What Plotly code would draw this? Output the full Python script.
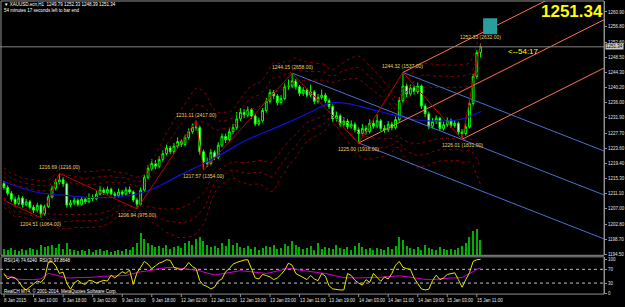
import plotly.graph_objects as go
import pandas as pd

W, H = 625, 307

# ---------------- data ----------------
closes = [1212.8, 1211.2, 1209.6, 1208.4, 1209.9, 1208.1, 1208.9, 1207.4, 1206.6, 1207.9,
          1205.6, 1207.6, 1210.2, 1212.6, 1214.3, 1214.9, 1213.8, 1208.0, 1208.6, 1209.3,
          1208.2, 1209.6, 1208.9, 1210.1, 1209.7, 1211.0, 1212.1, 1211.4, 1212.3, 1211.1,
          1210.6, 1211.6, 1211.0, 1212.2, 1211.6, 1209.4, 1208.2, 1212.1, 1215.6, 1218.0,
          1219.4, 1218.6, 1220.5, 1222.1, 1223.6, 1222.6, 1224.1, 1225.4, 1224.6, 1226.5,
          1228.1, 1229.4, 1229.2, 1222.6, 1219.8, 1219.4, 1222.4, 1221.1, 1224.4, 1226.8,
          1225.9, 1228.1, 1229.2, 1231.6, 1233.4, 1232.6, 1234.1, 1232.4, 1230.2, 1231.1,
          1233.9, 1236.4, 1238.8, 1237.9, 1236.1, 1237.2, 1240.4, 1240.6, 1242.0, 1240.4,
          1238.6, 1239.5, 1238.1, 1239.0, 1236.4, 1237.5, 1238.1, 1236.6, 1235.0, 1231.6,
          1232.5, 1230.1, 1231.0, 1229.5, 1230.1, 1228.6, 1227.6, 1229.0, 1228.1, 1230.4,
          1229.6, 1231.1, 1229.0, 1228.6, 1230.1, 1229.2, 1231.4, 1236.6, 1240.6, 1238.4,
          1240.1, 1239.0, 1240.6, 1235.1, 1233.0, 1229.6, 1230.9, 1231.8, 1229.0, 1230.0,
          1231.2, 1229.8, 1230.4, 1228.0, 1227.6, 1229.4, 1235.8, 1243.2, 1249.79, 1251.34]
highs = [1214.6, 1213.4, 1211.8, 1210.3, 1210.8, 1210.4, 1209.7, 1209.4, 1208.0, 1208.6,
         1208.3, 1208.1, 1210.9, 1213.3, 1215.2, 1216.69, 1215.6, 1214.2, 1209.4, 1210.1,
         1209.8, 1210.3, 1210.2, 1211.2, 1210.9, 1211.9, 1213.2, 1212.8, 1213.1, 1212.8,
         1211.7, 1212.5, 1212.2, 1213.0, 1213.1, 1212.0, 1210.0, 1212.8, 1216.3, 1218.9,
         1220.6, 1220.3, 1221.4, 1223.0, 1224.6, 1224.2, 1225.0, 1226.5, 1226.0, 1227.3,
         1229.0, 1230.3, 1231.11, 1229.8, 1223.2, 1221.0, 1223.3, 1223.0, 1225.2, 1227.6,
         1227.6, 1229.0, 1230.2, 1233.5, 1234.6, 1234.3, 1235.0, 1234.6, 1232.9, 1232.0,
         1234.6, 1237.4, 1239.7, 1239.5, 1238.4, 1238.1, 1241.3, 1242.4, 1244.15, 1242.6,
         1240.9, 1240.3, 1240.0, 1241.0, 1239.5, 1238.4, 1239.6, 1238.7, 1237.2, 1235.6,
         1233.6, 1233.0, 1232.1, 1231.6, 1231.2, 1230.7, 1229.3, 1230.2, 1229.8, 1231.5,
         1231.2, 1232.8, 1231.6, 1229.9, 1231.0, 1230.8, 1232.3, 1237.6, 1244.32, 1241.2,
         1241.0, 1240.8, 1241.6, 1241.0, 1235.8, 1233.6, 1231.8, 1232.6, 1232.2, 1230.9,
         1232.0, 1231.7, 1231.3, 1230.9, 1228.8, 1230.3, 1236.5, 1244.0, 1250.5, 1252.33]
lows = [1212.2, 1210.6, 1208.9, 1207.6, 1207.9, 1207.3, 1207.6, 1206.8, 1205.8, 1206.0,
        1204.51, 1205.1, 1207.2, 1209.8, 1212.0, 1213.6, 1213.0, 1207.3, 1207.4, 1208.0,
        1207.6, 1207.8, 1208.3, 1208.5, 1209.0, 1209.3, 1210.6, 1210.8, 1210.9, 1210.6,
        1209.9, 1210.1, 1210.4, 1210.6, 1211.0, 1208.8, 1206.94, 1207.9, 1211.6, 1215.0,
        1217.4, 1217.8, 1218.1, 1219.9, 1221.6, 1221.9, 1222.0, 1223.6, 1223.9, 1224.1,
        1225.9, 1227.5, 1228.4, 1221.8, 1217.57, 1218.4, 1218.9, 1220.3, 1220.6, 1223.8,
        1225.0, 1225.3, 1227.4, 1228.6, 1231.0, 1231.8, 1232.0, 1231.6, 1229.6, 1229.7,
        1230.6, 1233.3, 1235.8, 1237.0, 1235.3, 1235.5, 1236.7, 1239.6, 1240.0, 1239.6,
        1237.8, 1237.9, 1237.4, 1237.6, 1235.6, 1235.8, 1236.9, 1235.9, 1234.3, 1230.8,
        1230.9, 1229.4, 1229.5, 1228.8, 1228.9, 1227.9, 1225.00, 1227.0, 1227.3, 1227.6,
        1228.9, 1229.0, 1228.3, 1227.8, 1228.0, 1228.5, 1228.7, 1230.8, 1236.0, 1237.5,
        1237.8, 1238.2, 1238.5, 1234.3, 1232.1, 1228.8, 1229.0, 1230.2, 1228.3, 1228.4,
        1229.4, 1229.1, 1229.2, 1227.3, 1226.01, 1227.0, 1229.0, 1235.2, 1242.6, 1248.39]
first_open = 1213.9
opens = [first_open] + closes[:-1]

volumes = [600, 500, 700, 500, 400, 600, 500, 700, 600, 500,
           1000, 800, 900, 1000, 700, 1100, 600, 1200, 600, 500,
           400, 500, 400, 600, 300, 500, 600, 400, 500, 300,
           400, 500, 400, 600, 500, 800, 1200, 2200, 1600, 1200,
           1000, 800, 900, 700, 1000, 600, 800, 900, 700, 1200,
           1400, 1000, 1600, 1800, 1400, 1000, 800, 900, 700, 1200,
           900, 1600, 1000, 1200, 800, 700, 900, 600, 800, 500,
           700, 900, 800, 1000, 600, 700, 1100, 900, 1400, 1000,
           800, 600, 700, 900, 500, 1200, 600, 800, 700, 600,
           1000, 700, 600, 800, 500, 900, 1200, 800, 600, 700,
           500, 700, 600, 500, 800, 600, 900, 1800, 1500, 900,
           700, 600, 800, 500, 1000, 700, 600, 500, 800, 600,
           500, 600, 500, 700, 900, 1200, 1800, 2400, 2700, 1500]

rsi_fast = [58, 42, 48, 45, 35, 18, 10, 18, 28, 36,
            32, 45, 90, 93, 80, 58, 62, 30, 12, 30,
            38, 30, 26, 38, 36, 30, 34, 38, 36, 53,
            45, 55, 63, 58, 68, 26, 60, 76, 93, 85,
            72, 80, 88, 92, 98, 96, 76, 72, 68, 75,
            90, 78, 72, 37, 24, 20, 13, 18, 36, 42,
            63, 72, 85, 90, 94, 97, 98, 72, 45, 42,
            55, 52, 48, 40, 45, 55, 68, 88, 82, 58,
            52, 48, 40, 52, 42, 37, 58, 50, 22, 13,
            11, 10, 10, 58, 52, 38, 30, 24, 40, 32,
            58, 45, 35, 48, 42, 58, 82, 93, 76, 72,
            70, 45, 30, 13, 10, 12, 37, 53, 40, 45,
            55, 58, 60, 40, 18, 40, 60, 93, 98, 99]
rsi_slow = [53, 49, 45, 43, 41, 40, 40, 40, 40, 40,
            42, 50, 58, 56, 53, 50, 47, 45, 45, 45,
            45, 45, 45, 46, 47, 48, 50, 50, 50, 50,
            50, 51, 51, 52, 55, 58, 61, 63, 64, 65,
            66, 69, 72, 74, 76, 76, 75, 74, 73, 72,
            70, 68, 67, 66, 62, 60, 57, 54, 55, 57,
            59, 62, 63, 65, 66, 65, 64, 63, 61, 60,
            59, 58, 60, 62, 65, 68, 71, 72, 72, 70,
            67, 66, 65, 63, 62, 61, 59, 58, 55, 52,
            50, 48, 46, 45, 45, 45, 45, 45, 45, 45,
            45, 46, 47, 48, 49, 50, 50, 51, 50, 49,
            48, 46, 44, 42, 40, 40, 40, 41, 43, 45,
            45, 45, 45, 45, 46, 52, 57, 63, 70, 74.6]

zz_bars = [0, 10, 15, 36, 52, 54, 78, 96, 108, 124, 129]
zz_prices = [1209.3, 1204.51, 1216.69, 1206.94, 1231.11, 1217.57, 1244.15, 1225.00, 1244.32, 1226.01, 1252.33]
zz_vols = [None, 1064.00, 1216.00, 975.00, 2417.00, 1354.00, 2658.00, 1916.00, 1537.00, 1831.00, 2632.00]
zz_kind = [None, 'low', 'high', 'low', 'high', 'low', 'high', 'low', 'high', 'low', 'high']

ma_bars = [0, 8.2, 17.3, 26.2, 35.1, 41.0, 47.7, 56.6, 65.7, 74.6, 83.5, 88.0, 92.6, 101.5, 110.3, 117.6, 123.8, 129.2]
ma_vals = [1214.37, 1211.65, 1210.56, 1210.01, 1210.83, 1212.74, 1216.27, 1220.63, 1225.80, 1229.61,
           1233.69, 1235.87, 1235.87, 1233.69, 1231.51, 1230.97, 1231.51, 1233.69]

price_ticks = [1260.90, 1256.80, 1252.60, 1248.50, 1244.30, 1240.20, 1236.00, 1231.90, 1227.70,
               1223.60, 1219.40, 1215.30, 1211.10, 1207.00, 1202.80, 1198.70, 1194.50]
time_tick_bars = [0, 8, 16, 24, 32, 40, 48, 56, 64, 72, 80, 88, 96, 104, 112, 120, 128]
time_tick_labels = ["8 Jan 2015", "8 Jan 10:00", "8 Jan 18:00", "9 Jan 02:00", "9 Jan 10:00",
                    "9 Jan 18:00", "12 Jan 02:00", "12 Jan 11:00", "12 Jan 19:00", "13 Jan 03:00",
                    "13 Jan 11:00", "13 Jan 19:00", "14 Jan 03:00", "14 Jan 11:00", "14 Jan 19:00",
                    "15 Jan 03:00", "15 Jan 11:00"]
rsi_levels = [30, 70]
rsi_ticks = [0, 30, 70, 100]

bid = 1251.34
header = "\u25bc XAUUSD.ecn,H1  1249.79 1252.33 1248.39 1251.34"
timer_text = "54 minutes 17 seconds left to bar end"
rsi_label = "RSI(14) 74.6240  RSI(3) 97.8648"
footer = "RealCH MT4, \u00a9 2001-2014, MetaQuotes Software Corp."
box_bars = [129.7, 133.5]
box_prices = [1254.8, 1259.2]

# ---------------- layout geometry ----------------
bars = list(range(len(closes)))
X0_PX, BAR_PX = 4.0, 3.7
PLOT_RIGHT_PX = 605
x_range = [(0 - X0_PX) / BAR_PX, (PLOT_RIGHT_PX - X0_PX) / BAR_PX]
PX_PER_PRICE = 3.675
main_top_py, main_bot_py = 1, 257
y_range = [1260.9 - (main_bot_py - 12) / PX_PER_PRICE, 1260.9 + (12 - main_top_py) / PX_PER_PRICE]
rsi_top_py, rsi_bot_py = 258.5, 296
rsi_range = [-2.0, 106.4]


def pap(py):
    return 1 - py / H


x_dom = [0, PLOT_RIGHT_PX / W]
main_dom = [pap(main_bot_py), pap(main_top_py)]
rsi_dom = [pap(rsi_bot_py), pap(rsi_top_py)]

FONT = "Liberation Sans"
fig = go.Figure()

# volume
fig.add_trace(go.Bar(x=bars, y=volumes, marker_color="#00B000", marker_line_width=0,
                     width=0.3, xaxis="x", yaxis="y2", hoverinfo="skip"))

# bands around a 20-bar mean
cs = pd.Series(closes)
center = cs.rolling(20, min_periods=1).mean()
sd = cs.rolling(20, min_periods=2).std().bfill().clip(lower=1.8)
for k in (1.6, 2.3, 3.0):
    for sgn in (1, -1):
        fig.add_trace(go.Scatter(x=bars, y=center + sgn * k * sd, mode="lines",
                                 line=dict(color="#8B0000", width=1, dash="dot"),
                                 xaxis="x", yaxis="y", hoverinfo="skip"))

# moving average
fig.add_trace(go.Scatter(x=ma_bars, y=ma_vals, mode="lines", line=dict(color="#1010E0", width=1.2, shape="spline"),
                         xaxis="x", yaxis="y", hoverinfo="skip"))


# pitchforks
def pitchfork(p1, p2, p3, color):
    (b1, v1), (b2, v2), (b3, v3) = p1, p2, p3
    mb, mv = (b2 + b3) / 2, (v2 + v3) / 2
    slope = (mv - v1) / (mb - b1)
    xe = x_range[1] + 2
    for b, v in (p1, p2, p3):
        fig.add_trace(go.Scatter(x=[b, xe], y=[v, v + slope * (xe - b)], mode="lines",
                                 line=dict(color=color, width=1), xaxis="x", yaxis="y", hoverinfo="skip"))


pz = list(zip(zz_bars, zz_prices))
pitchfork(pz[6], pz[7], pz[8], "#4A6FD0")
pitchfork(pz[7], pz[8], pz[9], "#FF7050")

# zigzag
fig.add_trace(go.Scatter(x=zz_bars, y=zz_prices, mode="lines", line=dict(color="#C00000", width=1),
                         xaxis="x", yaxis="y", hoverinfo="skip"))

# candles
fig.add_trace(go.Candlestick(x=bars, open=opens, high=highs, low=lows, close=closes,
                             increasing=dict(line=dict(color="#00FF00", width=1), fillcolor="black"),
                             decreasing=dict(line=dict(color="#00FF00", width=1), fillcolor="white"),
                             whiskerwidth=0, xaxis="x", yaxis="y", hoverinfo="skip"))

# bid line
fig.add_trace(go.Scatter(x=x_range, y=[bid, bid], mode="lines", line=dict(color="#808080", width=1),
                         xaxis="x", yaxis="y", hoverinfo="skip"))

# RSI
for lv in rsi_levels:
    fig.add_trace(go.Scatter(x=x_range, y=[lv, lv], mode="lines", line=dict(color="#C0C0C0", width=1, dash="dot"),
                             xaxis="x2", yaxis="y3", hoverinfo="skip"))
fig.add_trace(go.Scatter(x=bars, y=rsi_slow, mode="lines", line=dict(color="#D000D0", width=1),
                         xaxis="x2", yaxis="y3", hoverinfo="skip"))
fig.add_trace(go.Scatter(x=bars, y=rsi_fast, mode="lines", line=dict(color="#E6E600", width=1),
                         xaxis="x2", yaxis="y3", hoverinfo="skip"))

ann = []
# zigzag labels
for b, p, v, kd in zip(zz_bars, zz_prices, zz_vols, zz_kind):
    if kd is None:
        continue
    ann.append(dict(x=b, y=p, xref="x", yref="y", text=f"{p:.2f} ({v:.2f})", showarrow=False,
                    xanchor="center", font=dict(family=FONT, size=5, color="#E8D060"),
                    yanchor="bottom" if kd == "high" else "top", yshift=1 if kd == "high" else -1))
# time labels
for b, t in zip(time_tick_bars, time_tick_labels):
    ann.append(dict(x=b, y=pap(302), xref="x", yref="paper", text=t, showarrow=False, xanchor="left",
                    yanchor="middle", xshift=-2, font=dict(family=FONT, size=4.5, color="#E0E0E0")))
# header texts
def paper_text(px, py, text, size, color, xanchor="left", bold=False):
    ann.append(dict(x=px / W, y=pap(py), xref="paper", yref="paper", text=("<b>%s</b>" % text) if bold else text,
                    showarrow=False, xanchor=xanchor, yanchor="middle",
                    font=dict(family=FONT, size=size, color=color)))


paper_text(2, 5, header, 4.5, "#FFFFFF")
paper_text(2, 11, timer_text, 4.5, "#FFFFFF")
paper_text(2, 262, rsi_label, 4.5, "#FFFFFF")
paper_text(2, 293, footer, 4.5, "#FFFFFF")
paper_text(573, 12, "%.2f" % bid, 17, "#FFFF00", xanchor="center", bold=True)
paper_text(507, 52, "<--54:17", 8, "#FFFF00")
# bid box on axis
ann.append(dict(x=606 / W, y=bid, xref="paper", yref="y", text="%.2f" % bid, showarrow=False, xanchor="left",
                yanchor="middle", bgcolor="#C8C8C8", borderpad=0,
                font=dict(family=FONT, size=4.5, color="#000000")))

shapes = [
    dict(type="rect", xref="x", yref="y", x0=box_bars[0], x1=box_bars[1], y0=box_prices[0], y1=box_prices[1],
         fillcolor="#2A9E9E", line=dict(width=0)),
    dict(type="rect", xref="paper", yref="paper", x0=1 / W, x1=PLOT_RIGHT_PX / W, y0=main_dom[0], y1=pap(1),
         line=dict(color="#909090", width=1)),
    dict(type="rect", xref="paper", yref="paper", x0=1 / W, x1=PLOT_RIGHT_PX / W, y0=rsi_dom[0], y1=pap(258.5),
         line=dict(color="#909090", width=1)),
]
for b in time_tick_bars:
    shapes.append(dict(type="line", xref="x", yref="paper", x0=b, x1=b, y0=pap(296), y1=pap(299),
                       line=dict(color="#909090", width=1)))

fig.update_layout(
    width=W, height=H, margin=dict(l=0, r=0, t=0, b=0),
    paper_bgcolor="black", plot_bgcolor="black", showlegend=False, bargap=0,
    xaxis=dict(domain=x_dom, range=x_range, anchor="y", showticklabels=False, showgrid=False,
               zeroline=False, rangeslider=dict(visible=False)),
    xaxis2=dict(domain=x_dom, range=x_range, anchor="y3", matches="x", showticklabels=False,
                showgrid=False, zeroline=False),
    yaxis=dict(domain=main_dom, range=y_range, side="right", anchor="x", showgrid=False, zeroline=False,
               tickvals=price_ticks, ticktext=["%.2f" % v for v in price_ticks], ticks="outside", ticklen=2,
               tickcolor="#909090", tickfont=dict(family=FONT, size=4.5, color="#E0E0E0"),
               showline=True, linecolor="#909090", linewidth=1),
    yaxis2=dict(domain=main_dom, range=[0, 25600], overlaying="y", visible=False),
    yaxis3=dict(domain=rsi_dom, range=rsi_range, side="right", anchor="x2", showgrid=False, zeroline=False,
                tickvals=rsi_ticks, ticktext=[str(v) for v in rsi_ticks], ticks="outside", ticklen=2,
                tickcolor="#909090", tickfont=dict(family=FONT, size=4.5, color="#E0E0E0"),
                showline=True, linecolor="#909090", linewidth=1),
    annotations=ann, shapes=shapes,
)

fig.write_html("out.html")
